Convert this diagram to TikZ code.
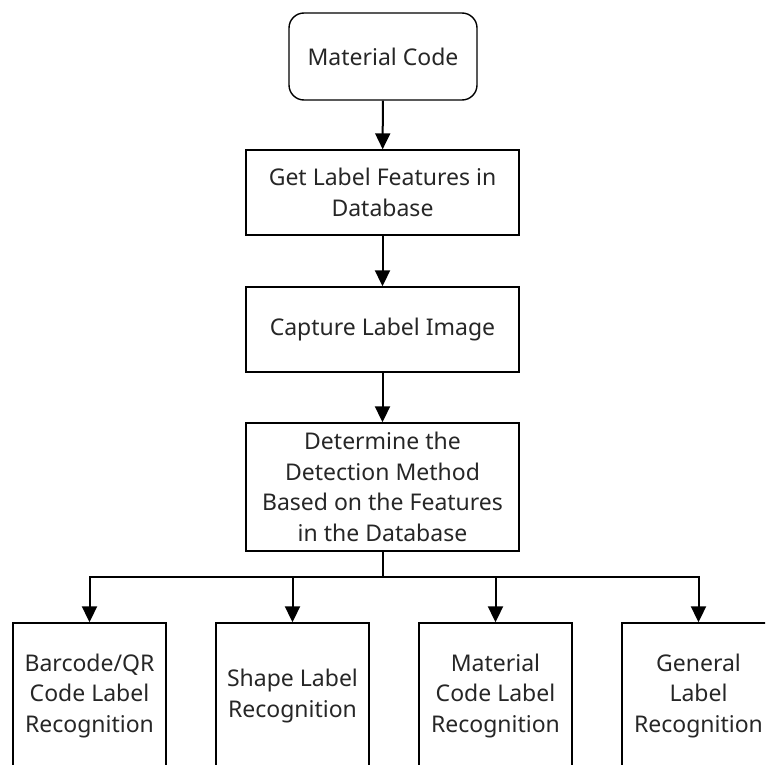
\documentclass[tikz,border=0pt]{standalone}
\usepackage{fontspec}
\setmainfont{Noto Sans}
\usepackage{tikz}
\usetikzlibrary{arrows.meta,positioning}

\begin{document}
\begin{tikzpicture}[
    x=1pt, y=-1pt,
    font=\fontsize{23}{30.5}\selectfont,
    startbox/.style={draw, rounded corners=15pt, align=center, minimum width=188pt, minimum height=87pt, line width=1.4pt},
    stepbox/.style={draw, align=center, minimum width=273pt, minimum height=85pt, line width=1.4pt},
    leafbox/.style={draw, align=center, minimum width=153pt, minimum height=146pt, line width=1.4pt},
    arrow/.style={-{Triangle[length=16pt,width=15pt]}, line width=2pt}
  ]
  \useasboundingbox[clip] (0,0) rectangle (765,765);

  % main chain
  \node[startbox, text=black!85] (code) at (383,56.5) {Material Code};
  \node[stepbox, text=black!85] (feat) at (382.5,192.5) {Get Label Features in\\Database};
  \node[stepbox, text=black!85] (capt) at (382.5,329.5) {Capture Label Image};
  \node[stepbox, text=black!85, minimum height=128pt] (meth) at (382.5,487) {Determine the\\Detection Method\\Based on the Features\\in the Database};

  % recognition methods
  \node[leafbox, text=black!85] (qr) at (89.5,696) {Barcode/QR\\Code Label\\Recognition};
  \node[leafbox, text=black!85] (shape) at (292.5,696) {Shape Label\\Recognition};
  \node[leafbox, text=black!85] (mat) at (495.5,696) {Material\\Code Label\\Recognition};
  \node[leafbox, text=black!85] (gen) at (698.5,696) {General\\Label\\Recognition};
  % boxes run past the lower edge
  \foreach \leaf in {qr,shape,mat,gen}
    \draw[line width=1.4pt] (\leaf.south west) -- ++(0,60) (\leaf.south east) -- ++(0,60);

  \coordinate (split) at (382.5,577);

  \draw[arrow] (code) -- (feat);
  \draw[arrow] (feat) -- (capt);
  \draw[arrow] (capt) -- (meth);
  \draw[line width=2pt] (meth) -- (split);
  \draw[arrow] (split) -| (qr);
  \draw[arrow] (split) -| (shape);
  \draw[arrow] (split) -| (mat);
  \draw[arrow] (split) -| (gen);
\end{tikzpicture}
\end{document}
